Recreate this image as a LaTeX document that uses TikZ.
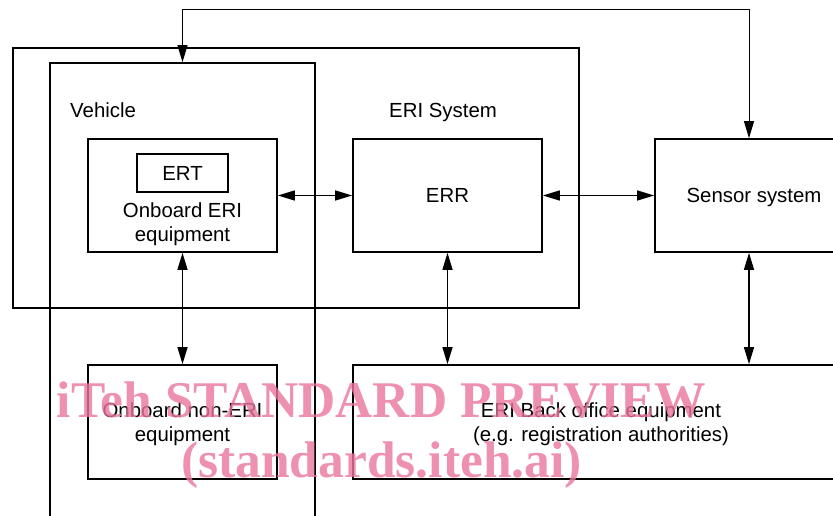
\documentclass[tikz,border=0pt]{standalone}
\usepackage{fontspec}
\setmainfont{Liberation Sans}
\newfontfamily\wmfont{Liberation Serif}
\usetikzlibrary{arrows.meta}
\definecolor{wmpink}{RGB}{234,118,156}
\begin{document}
\begin{tikzpicture}[x=1pt,y=-1pt,
  box/.style={draw,line width=1.7pt,inner sep=0pt},
  lbl/.style={font=\fontsize{20.4}{24}\selectfont,inner sep=0pt,anchor=base},
  lblw/.style={font=\fontsize{20.4}{24}\selectfont,inner sep=0pt,anchor=base west},
  arr/.style={line width=1.3pt,{Triangle[length=17pt,width=10pt]}-{Triangle[length=17pt,width=10pt]}},
  wm/.style={font=\wmfont\bfseries\fontsize{51.5}{51.5}\selectfont,text=wmpink,text opacity=0.8,inner sep=0pt,anchor=base}]
\useasboundingbox (0,0) rectangle (833,516);
\clip (0,0) rectangle (833,516);
% containers
\node[box,minimum width=566pt,minimum height=260pt] (sys) at (296,178) {};
\node[box,minimum width=265pt,minimum height=467pt] (veh) at (182.5,296.5) {};
% boxes
\node[box,minimum width=189pt,minimum height=113pt] (obe) at (182.5,195.5) {};
\node[box,minimum width=91pt,minimum height=38pt] (ert) at (182.5,173) {};
\node[box,minimum width=189pt,minimum height=113pt] (err) at (447.5,195.5) {};
\node[box,minimum width=188pt,minimum height=113pt] (sen) at (749,195.5) {};
\node[box,minimum width=189pt,minimum height=114pt] (one) at (182.5,422) {};
\node[box,minimum width=496pt,minimum height=114pt] (bo) at (601,422) {};
% labels
\node[lblw] (tveh) at (70,118) {Vehicle};
\node[lblw] (tsys) at (389,118) {ERI System};
\node[lbl] (tert) at (182.5,181) {ERT};
\node[lbl] (tobe1) at (182.5,217) {Onboard ERI};
\node[lbl] (tobe2) at (182.5,241) {equipment};
\node[lbl] (terr) at (447.5,203) {ERR};
\node[lbl] (tsen) at (754,203) {Sensor system};
\node[lbl] (tone1) at (182.5,417) {Onboard non-ERI};
\node[lbl] (tone2) at (182.5,441) {equipment};
\node[lbl] (tbo1) at (601,417) {ERI Back office equipment};
\node[lbl] (tbo2) at (601,441) {(e.g. registration authorities)};
% connectors
\draw[arr] (obe.east) -- (err.west);
\draw[arr] (err.east) -- (sen.west);
\draw[arr] (obe.south) -- (one.north);
\draw[arr] (err.south) -- (err.south |- bo.north);
\draw[arr] (sen.south) -- (sen.south |- bo.north);
\draw[arr,line width=1pt] (veh.north) -- ++(0,-53) -| (sen.north);
% watermark
\node[wm] (wm1) at (381.5,417) {iTeh STANDARD PREVIEW};
\node[wm] (wm2) at (381.5,477) {(standards.iteh.ai)};
\end{tikzpicture}
\end{document}
